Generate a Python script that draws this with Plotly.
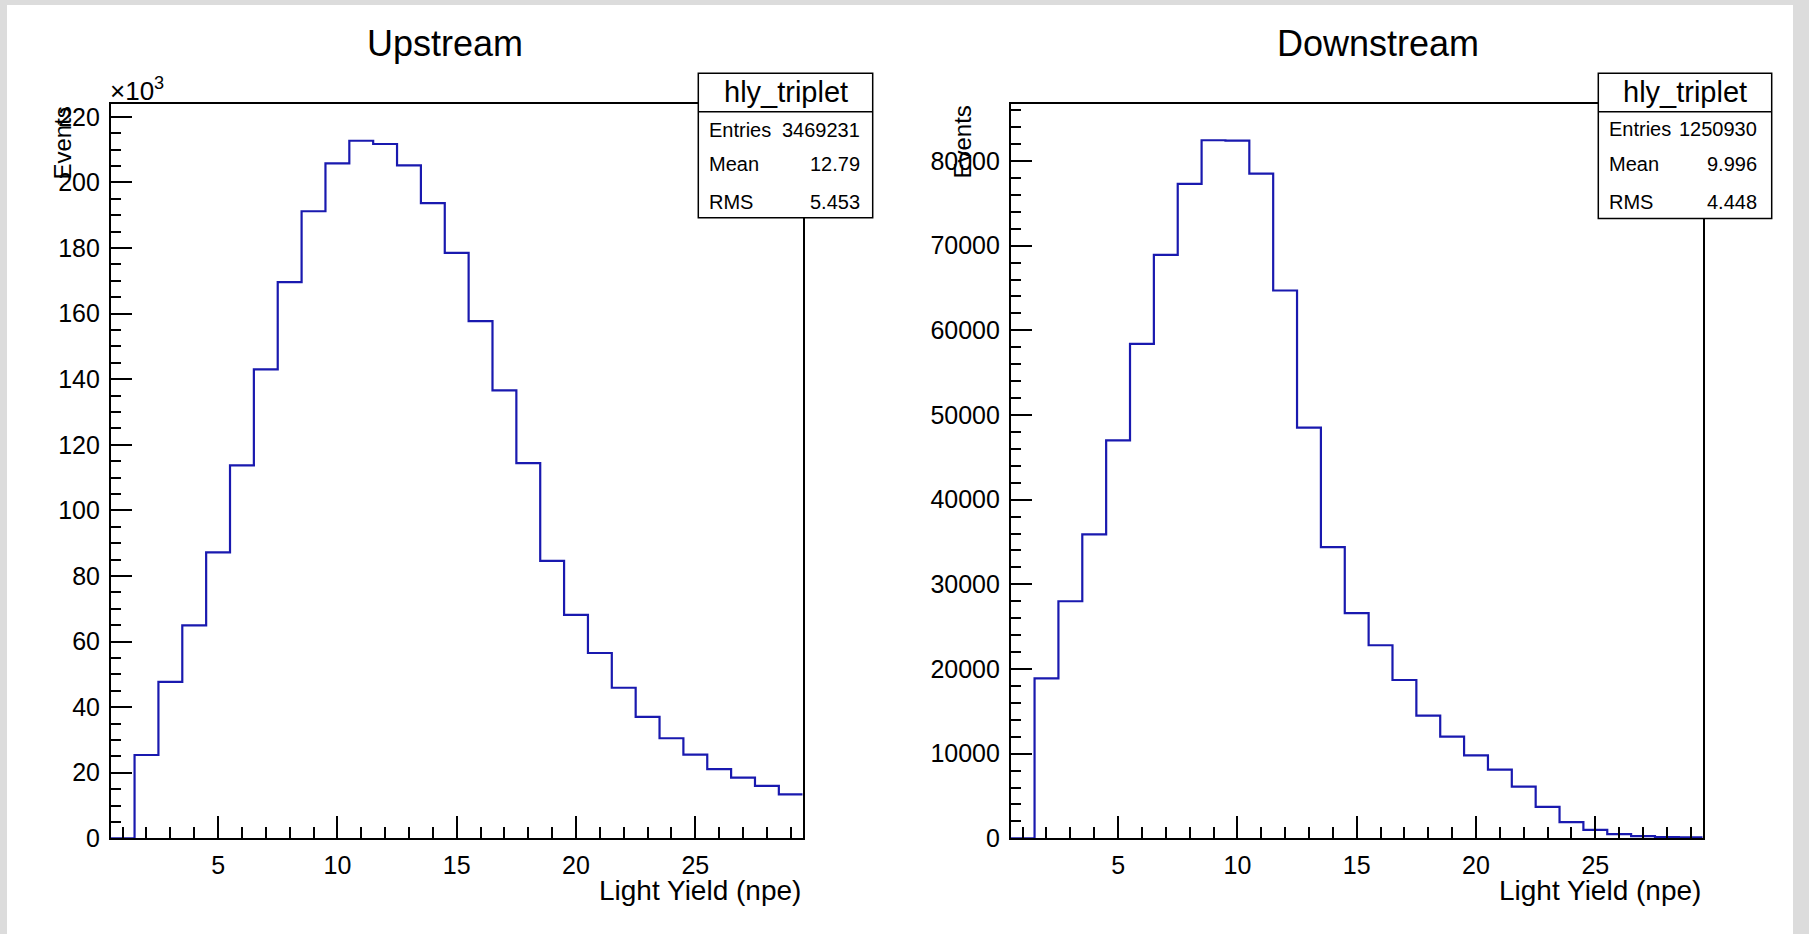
import plotly.graph_objects as go

# ---------------- data ----------------
bin_centers = list(range(1, 30))  # Light Yield (npe), bin width 1
upstream_counts = [0, 25400, 47700, 64900, 87200, 113700, 143000, 169600, 191200,
                   205800, 212700, 211700, 205200, 193700, 178500, 157700, 136600,
                   114400, 84600, 68100, 56500, 45900, 37000, 30500, 25500, 21100,
                   18500, 16000, 13400]
downstream_counts = [0, 18900, 28000, 35900, 47000, 58400, 68900, 77300, 82450,
                     82400, 78500, 64700, 48500, 34400, 26600, 22800, 18700, 14500,
                     12000, 9800, 8100, 6100, 3700, 1900, 1000, 500, 250, 150, 100]
up_tickvals = [0, 20000, 40000, 60000, 80000, 100000, 120000, 140000, 160000,
               180000, 200000, 220000]
up_ticktext = ["0", "20", "40", "60", "80", "100", "120", "140", "160", "180", "200", "220"]
stats_up = {"name": "hly_triplet", "Entries": "3469231", "Mean": "12.79", "RMS": "5.453"}
stats_down = {"name": "hly_triplet", "Entries": "1250930", "Mean": "9.996", "RMS": "4.448"}

W, H = 1809, 934
FONT = "Liberation Sans, Arial, Helvetica, sans-serif"
LINE_COLOR = "rgb(25,25,175)"


def xp(px):
    return px / W


def yp(py):
    return 1 - py / H


def step_xy(centers, counts):
    xs = [c - 0.5 for c in centers] + [centers[-1] + 0.5]
    ys = list(counts) + [counts[-1]]
    return xs, ys


fig = go.Figure()
ux, uy = step_xy(bin_centers, upstream_counts)
dx, dy = step_xy(bin_centers, downstream_counts)
fig.add_trace(go.Scatter(x=ux, y=uy, mode="lines", line=dict(shape="hv", color=LINE_COLOR, width=2.2),
                         xaxis="x", yaxis="y", showlegend=False, hoverinfo="skip"))
fig.add_trace(go.Scatter(x=dx, y=dy, mode="lines", line=dict(shape="hv", color=LINE_COLOR, width=2.2),
                         xaxis="x2", yaxis="y2", showlegend=False, hoverinfo="skip"))

frame_top, frame_bot = 104, 838.3
left_frame = (110.7, 802.7)
right_frame = (1010.7, 1702.7)

common_x = dict(range=[0.5, 29.5], showline=True, mirror=True, linecolor="black", linewidth=1.5,
                ticks="inside", ticklen=23, tickwidth=1.5, tickcolor="black",
                tickmode="linear", tick0=0, dtick=5,
                minor=dict(ticks="inside", ticklen=12, dtick=1, tick0=0, tickwidth=1.5, tickcolor="black"),
                tickfont=dict(size=25, color="black", family=FONT),
                showgrid=False, zeroline=False, automargin=False, ticklabelstandoff=4)
common_y = dict(showline=True, mirror=True, linecolor="black", linewidth=1.5,
                ticks="inside", ticklen=22, tickwidth=1.5, tickcolor="black",
                tickfont=dict(size=25, color="black", family=FONT),
                showgrid=False, zeroline=False, automargin=False, ticklabelstandoff=4)

fig.update_layout(
    width=W, height=H,
    margin=dict(l=0, r=0, t=0, b=0),
    paper_bgcolor="#dcdcdc",
    plot_bgcolor="white",
    font=dict(family=FONT, color="black"),
    xaxis=dict(domain=[xp(left_frame[0]), xp(left_frame[1])], anchor="y", **common_x),
    yaxis=dict(domain=[yp(frame_bot), yp(frame_top)], anchor="x", range=[0, 223900],
               tickmode="array", tickvals=up_tickvals, ticktext=up_ticktext,
               minor=dict(ticks="inside", ticklen=11, dtick=5000, tick0=0, tickwidth=1.5, tickcolor="black"),
               **common_y),
    xaxis2=dict(domain=[xp(right_frame[0]), xp(right_frame[1])], anchor="y2", **common_x),
    yaxis2=dict(domain=[yp(frame_bot), yp(frame_top)], anchor="x2", range=[0, 86730],
                tickmode="linear", tick0=0, dtick=10000, tickformat="d",
                minor=dict(ticks="inside", ticklen=11, dtick=2000, tick0=0, tickwidth=1.5, tickcolor="black"),
                **common_y),
)

shapes = [dict(type="rect", xref="paper", yref="paper", x0=xp(7), x1=xp(1793), y0=0, y1=yp(5),
               fillcolor="white", line=dict(width=0), layer="below")]
annotations = []


def add_text(text, x, y, size, xanchor="center", yanchor="middle", angle=0):
    annotations.append(dict(text=text, x=xp(x), y=yp(y), xref="paper", yref="paper",
                            xanchor=xanchor, yanchor=yanchor, showarrow=False, textangle=angle,
                            font=dict(size=size, family=FONT, color="black")))


# titles
add_text("Upstream", 445, 43, 36)
add_text("Downstream", 1377.5, 43, 36)
# axis titles
add_text("Light Yield (npe)", left_frame[1], 890, 28, xanchor="right")
add_text("Light Yield (npe)", right_frame[1], 890, 28, xanchor="right")
add_text("Events", 62, frame_top, 24, yanchor="top", angle=-90)
add_text("Events", 962, frame_top, 24, yanchor="top", angle=-90)
add_text("×10<sup>3</sup>", 108, 89, 26, xanchor="left")


def stats_box(stats, x0, x1, y0, ysep, y1, title_y, rows_y, lx, rx):
    shapes.append(dict(type="rect", xref="paper", yref="paper", x0=xp(x0), x1=xp(x1),
                       y0=yp(y1), y1=yp(y0), fillcolor="white", line=dict(color="black", width=1.5),
                       layer="above"))
    shapes.append(dict(type="line", xref="paper", yref="paper", x0=xp(x0), x1=xp(x1),
                       y0=yp(ysep), y1=yp(ysep), line=dict(color="black", width=1.5), layer="above"))
    add_text(stats["name"], (x0 + x1) / 2, title_y, 29)
    for key, yy in zip(["Entries", "Mean", "RMS"], rows_y):
        add_text(key, lx, yy, 20, xanchor="left")
        add_text(stats[key], rx, yy, 20, xanchor="right")


stats_box(stats_up, 698.3, 872.7, 73.3, 111.7, 217.7, 92, [130, 164, 201.7], 706.7, 862)
stats_box(stats_down, 1598.3, 1771.7, 73.3, 111.7, 218.5, 92, [129, 164, 201.7], 1606.7, 1759)

fig.update_layout(shapes=shapes, annotations=annotations)

fig.write_html("out.html", config={"displayModeBar": False},
               post_script="document.body.style.margin='0';document.body.style.overflow='hidden';")
